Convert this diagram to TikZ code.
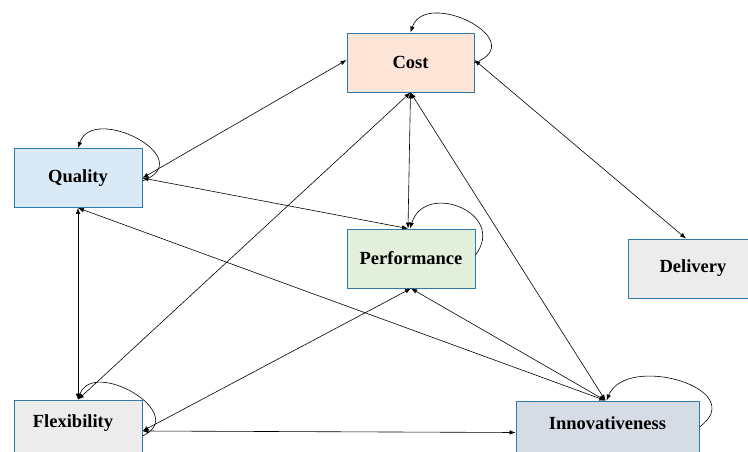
\documentclass[tikz,border=0pt]{standalone}
\usepackage{fontspec}
\setmainfont{Liberation Serif}
\usetikzlibrary{arrows.meta,calc}
\definecolor{bordercol}{RGB}{47,122,170}
\definecolor{costfill}{RGB}{252,228,214}
\definecolor{qualfill}{RGB}{218,233,246}
\definecolor{perffill}{RGB}{226,239,218}
\definecolor{grayfill}{RGB}{236,236,236}
\definecolor{innofill}{RGB}{214,220,228}
\begin{document}
\begin{tikzpicture}[x=1pt,y=-1pt,
  box/.style={draw=bordercol, line width=0.9pt, minimum height=59pt, inner sep=0pt,
    font=\bfseries\fontsize{18.5}{20}\selectfont},
  link/.style={{Latex[length=6pt,width=4.5pt]}-{Latex[length=6pt,width=4.5pt]}, line width=0.6pt},
  selfloop/.style={-{Latex[length=6pt,width=4.5pt]}, line width=0.6pt}]
\useasboundingbox (0,0) rectangle (748,452);
\node[box, fill=costfill, minimum width=127pt] (cost) at (410.5,62.5) {Cost};
\node[box, fill=qualfill, minimum width=128pt] (quality) at (78,178) {Quality};
\node[box, fill=perffill, minimum width=128pt] (perf) at (411,258.5) {Performance};
\node[box, fill=grayfill, minimum width=130pt] (delivery) at (693,268.5) {Delivery};
\node[box, fill=grayfill, minimum width=128pt,
  label={[font=\bfseries\fontsize{18.5}{20}\selectfont, yshift=6.5pt, xshift=-5pt]center:Flexibility}] (flex) at (78,429.5) {};
\node[box, fill=innofill, minimum width=183pt,
  label={[font=\bfseries\fontsize{18.5}{20}\selectfont, yshift=7pt]center:Innovativeness}] (innov) at (607.5,430.5) {};
% connectors
\draw[link] ([yshift=2.5pt]cost.west) -- (quality.east);
\draw[link] ([yshift=2.5pt]cost.east) -- ([xshift=-7pt]delivery.north);
\draw[link] (cost.south) -- ([xshift=-3pt]perf.north);
\draw[link] (cost.south) -- (flex.north);
\draw[link] (cost.south) -- ([xshift=-2pt]innov.north);
\draw[link] (quality.east) -- ([xshift=-3pt]perf.north);
\draw[link] (quality.south) -- (flex.north);
\draw[link] (quality.south) -- ([xshift=-2pt]innov.north);
\draw[link] (perf.south) -- ([yshift=-1.5pt]flex.east);
\draw[link] (perf.south) -- ([xshift=-2pt]innov.north);
\draw[link] ([yshift=-1.5pt]flex.east) -- ([yshift=-2pt]innov.west);
% self loops
\draw[selfloop] ([yshift=-0.5pt]cost.east) .. controls +(58,-22) and +(15,-45) .. (cost.north);
\draw[selfloop] ([yshift=-3pt]quality.east) .. controls +(58,-22) and +(15,-45) .. (quality.north);
\draw[selfloop] ([yshift=3.5pt]perf.east) .. controls +(32,-42) and +(15,-48) .. ([xshift=-1pt]perf.north);
\draw[selfloop] ([yshift=-6.5pt]flex.east) .. controls +(48,-22) and +(15,-42) .. (flex.north);
\draw[selfloop] ([yshift=3.5pt]innov.east) .. controls +(52,-38) and +(20,-48) .. ([xshift=-1pt]innov.north);
\end{tikzpicture}
\end{document}
